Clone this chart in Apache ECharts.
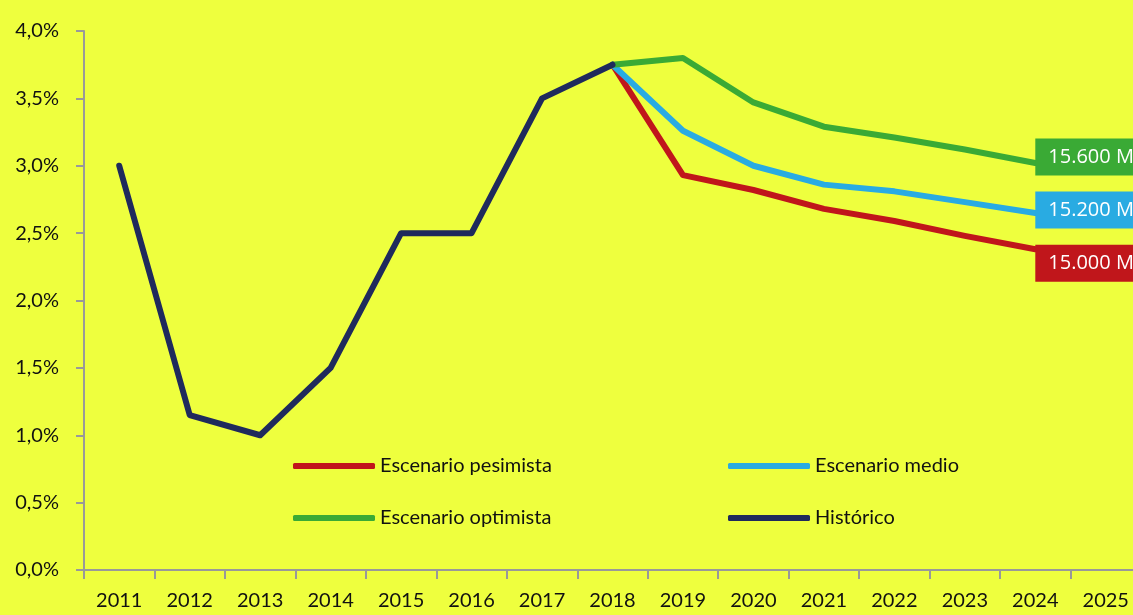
<!DOCTYPE html>
<html>
<head>
<meta charset="utf-8">
<script src="https://cdn.jsdelivr.net/npm/echarts@6/dist/echarts.min.js"></script>
<style>
  html, body { margin: 0; padding: 0; background: #EEFF3E; }
  #chart { width: 1133px; height: 615px; }
</style>
</head>
<body>
<div id="chart"></div>
<script>
const years = ["2011", "2012", "2013", "2014", "2015", "2016", "2017", "2018",
  "2019", "2020", "2021", "2022", "2023", "2024", "2025"];
const historico = [3.0, 1.15, 1.0, 1.5, 2.5, 2.5, 3.5, 3.75, null, null, null, null, null, null, null];
const pesimista = [null, null, null, null, null, null, null, 3.75, 2.93, 2.82, 2.68, 2.59, 2.48, 2.38, null];
const medio = [null, null, null, null, null, null, null, 3.75, 3.26, 3.0, 2.86, 2.81, 2.73, 2.65, null];
const optimista = [null, null, null, null, null, null, null, 3.75, 3.8, 3.47, 3.29, 3.21, 3.12, 3.02, null];
const endLabels = { pesimista: "15.000 M€", medio: "15.200 M€", optimista: "15.600 M€" };

const chart = echarts.init(document.getElementById("chart"));
const font = "Lato, 'Open Sans', sans-serif";

const makeSeries = (name, data, color, label, offsetY) => {
  const s = {
    name: name,
    type: "line",
    data: data,
    showSymbol: false,
    symbol: "none",
    lineStyle: { width: 6, color: color, cap: "round", join: "round" },
    itemStyle: { color: color },
    emphasis: { disabled: true }
  };
  if (label) {
    s.endLabel = {
      show: true,
      formatter: label,
      distance: 0,
      offset: [0, offsetY],
      backgroundColor: color,
      color: "#fff",
      fontFamily: "'Open Sans', sans-serif",
      fontSize: 20,
      padding: [9, 12, 8, 13],
      width: 110
    };
  }
  return s;
};

// one legend per entry so each sits where it is in the picture
const legendAt = (name, left, top) => ({
  left: left, top: top, padding: 0,
  data: [name],
  icon: "roundRect", itemWidth: 82, itemHeight: 6, itemGap: 0,
  textStyle: { fontFamily: font, fontSize: 20, color: "#111" }
});

chart.setOption({
  backgroundColor: "#EEFF3E",
  animation: false,
  grid: { left: 84, top: 31, width: 1057, height: 539, outerBoundsMode: "none", containLabel: false },
  legend: [
    legendAt("Escenario pesimista", 293, 456),
    legendAt("Escenario medio", 728, 456),
    legendAt("Escenario optimista", 293, 508),
    legendAt("Histórico", 728, 508)
  ],
  xAxis: {
    type: "category",
    data: years,
    boundaryGap: true,
    axisLine: { lineStyle: { color: "#999", width: 2 } },
    axisTick: { show: true, length: 9, alignWithLabel: false, lineStyle: { color: "#999", width: 2 } },
    axisLabel: { margin: 21, fontFamily: font, fontSize: 20, color: "#111", interval: 0 },
    splitLine: { show: false }
  },
  yAxis: {
    type: "value",
    min: 0, max: 4, interval: 0.5,
    axisLine: { show: true, lineStyle: { color: "#999", width: 2 } },
    axisTick: { show: true, length: 8, lineStyle: { color: "#999", width: 2 } },
    axisLabel: {
      margin: 25, fontFamily: font, fontSize: 20, color: "#111",
      formatter: v => v.toFixed(1).replace(".", ",") + "%"
    },
    splitLine: { show: false }
  },
  series: [
    makeSeries("Escenario pesimista", pesimista, "#C0161B", endLabels.pesimista, 14),
    makeSeries("Escenario medio", medio, "#29ABE2", endLabels.medio, -3),
    makeSeries("Escenario optimista", optimista, "#3AAA35", endLabels.optimista, -6),
    makeSeries("Histórico", historico, "#1F2A5C", null, 0)
  ]
});
</script>
</body>
</html>
